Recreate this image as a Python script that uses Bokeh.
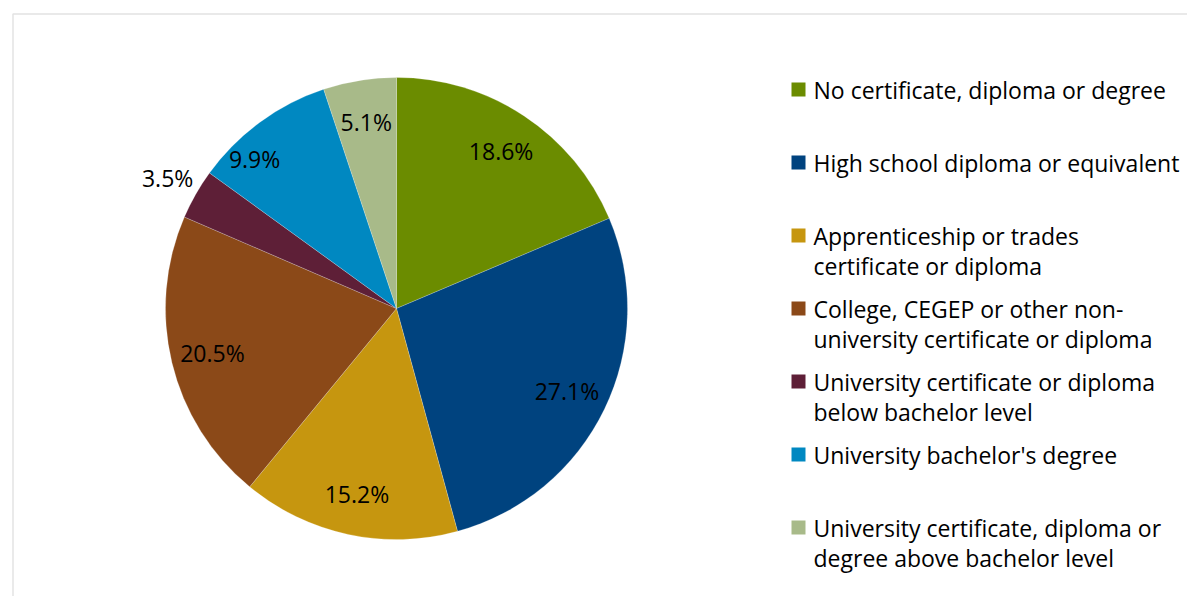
import math
from bokeh.plotting import figure
from bokeh.models import Range1d, BoxAnnotation, ColumnDataSource
from bokeh.core.properties import value
from bokeh.embed import file_html
from bokeh.resources import INLINE

# ---- data ----
categories = [
    "No certificate, diploma or degree",
    "High school diploma or equivalent",
    "Apprenticeship or trades certificate or diploma",
    "College, CEGEP or other non-university certificate or diploma",
    "University certificate or diploma below bachelor level",
    "University bachelor's degree",
    "University certificate, diploma or degree above bachelor level",
]
legend_lines = [
    ["No certificate, diploma or degree"],
    ["High school diploma or equivalent"],
    ["Apprenticeship or trades", "certificate or diploma"],
    ["College, CEGEP or other non-", "university certificate or diploma"],
    ["University certificate or diploma", "below bachelor level"],
    ["University bachelor's degree"],
    ["University certificate, diploma or", "degree above bachelor level"],
]
shares = [18.6, 27.1, 15.2, 20.5, 3.5, 9.9, 5.1]
colors = ["#6B8C00", "#00437F", "#C6960F", "#8B4918", "#5E1F37", "#0088C1", "#A8BA89"]

# ---- layout (styles) ----
W, H = 1187, 596
CX, CY, R = 396, H - 308, 231
FONT = "Open Sans"
FS = "23px"

p = figure(width=W, height=H, output_backend="svg", toolbar_location=None,
           x_range=Range1d(0, W), y_range=Range1d(0, H),
           x_axis_type=None, y_axis_type=None, min_border=0)
p.grid.visible = False
p.outline_line_color = None
p.background_fill_color = "white"
p.border_fill_color = "white"

total = sum(shares)
starts, ends, lx, ly, labels = [], [], [], [], []
cum = 0.0
for i, s in enumerate(shares):
    a0 = math.pi / 2 - 2 * math.pi * cum / total
    cum += s
    a1 = math.pi / 2 - 2 * math.pi * cum / total
    starts.append(a0)
    ends.append(a1)
    mid = (a0 + a1) / 2
    rf = 1.14 if s < 4 else 0.82
    x = CX + rf * R * math.cos(mid)
    y = CY + rf * R * math.sin(mid)
    if abs(s - 9.9) < 1e-9:
        x -= 30
        y -= 3
    lx.append(x)
    ly.append(y)
    labels.append(f"{s:.1f}%")

src = ColumnDataSource(dict(start=starts, end=ends, color=colors, cat=categories))
p.wedge(x=CX, y=CY, radius=R, start_angle="start", end_angle="end",
        direction="clock", fill_color="color", line_color="white",
        line_alpha=0.35, line_width=0.6, source=src)

p.text(x=lx, y=ly, text=labels, text_font=value(FONT), text_font_size=FS,
       text_align="center", text_baseline="middle", text_color="black")

# legend
sq_x, sq_y, tx, ty = [], [], [], []
ttext = []
for i, lines in enumerate(legend_lines):
    y0 = H - (89 + 73 * i)
    sq_x.append(798)
    sq_y.append(y0)
    for j, ln in enumerate(lines):
        tx.append(813)
        ty.append(y0 - 30 * j)
        ttext.append(ln)
p.rect(x=sq_x, y=sq_y, width=14, height=14, fill_color=colors, line_color=None)
p.text(x=tx, y=ty, text=ttext, text_font=value(FONT), text_font_size=FS,
       text_align="left", text_baseline="middle", text_color="black")

# chart border
p.add_layout(BoxAnnotation(left=12.5, right=W + 10, top=H - 13.5, bottom=-10,
                           fill_alpha=0, line_color="#A0A0A0", line_width=1.5))

open("out.html", "w").write(file_html(p, INLINE))
